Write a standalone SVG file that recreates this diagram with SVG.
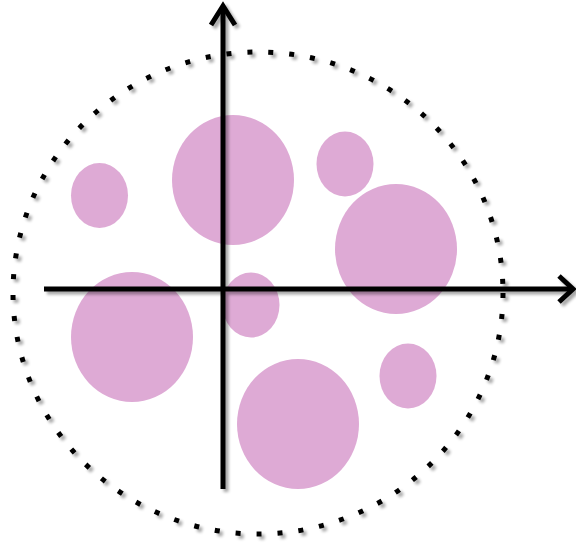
<svg xmlns="http://www.w3.org/2000/svg" width="576" height="543" viewBox="0 0 576 543">
<defs>
<filter id="sh" x="-10%" y="-10%" width="120%" height="120%">
<feGaussianBlur in="SourceAlpha" stdDeviation="1.8"/>
<feOffset dx="3" dy="3" result="b"/>
<feComponentTransfer><feFuncA type="linear" slope="0.35"/></feComponentTransfer>
<feMerge><feMergeNode/><feMergeNode in="SourceGraphic"/></feMerge>
</filter>
<style>
.blob{fill:#DEAAD5}
.ax{stroke:#000;stroke-width:5;fill:none;stroke-linecap:butt}
.dots{fill:none;stroke:#000;stroke-width:5;stroke-dasharray:5 16}
</style>
</defs>
<rect width="576" height="543" fill="#fff"/>
<g id="boundary" filter="url(#sh)">
<ellipse class="dots" cx="258" cy="293" rx="245" ry="241"/>
</g>
<g id="circles">
<ellipse id="c1" class="blob" cx="99.5" cy="195.5" rx="28.5" ry="32.5"/>
<ellipse id="c2" class="blob" cx="233" cy="180" rx="61" ry="65"/>
<ellipse id="c3" class="blob" cx="345" cy="164" rx="28.5" ry="32.5"/>
<ellipse id="c4" class="blob" cx="396" cy="249" rx="61" ry="65"/>
<ellipse id="c5" class="blob" cx="132" cy="337" rx="61" ry="65"/>
<ellipse id="c6" class="blob" cx="251" cy="305" rx="28.5" ry="32.5"/>
<ellipse id="c7" class="blob" cx="408" cy="376" rx="28.5" ry="32.5"/>
<ellipse id="c8" class="blob" cx="298" cy="424" rx="61" ry="65"/>
</g>
<g id="connectors" filter="url(#sh)">
<path class="ax" d="M223 489 V6"/>
<path class="ax" d="M211 25 L223 6 L235 25"/>
<path class="ax" d="M44 289 H573"/>
<path class="ax" d="M559 276 L573 289 L559 302"/>
</g>
</svg>
